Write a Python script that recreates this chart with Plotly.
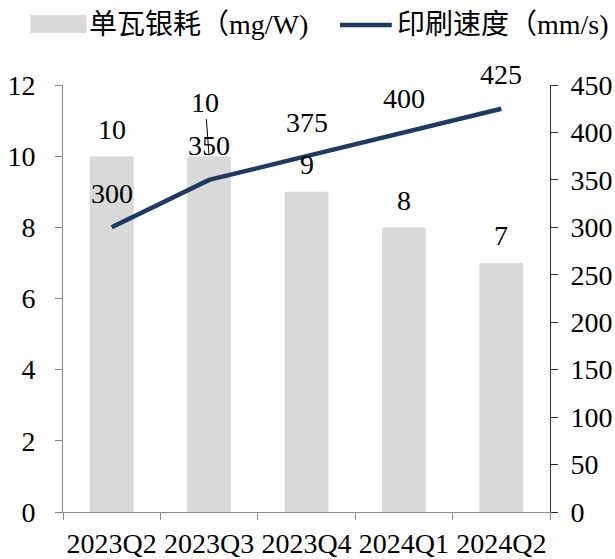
import plotly.graph_objects as go

# Quarterly series
quarters = ["2023Q2", "2023Q3", "2023Q4", "2024Q1", "2024Q2"]
silver_mg_per_w = [10, 10, 9, 8, 7]
print_speed_mm_s = [300, 350, 375, 400, 425]

bar_name = "单瓦银耗（mg/W)"
line_name = "印刷速度（mm/s)"

left_ticks = [0, 2, 4, 6, 8, 10, 12]
right_ticks = [0, 50, 100, 150, 200, 250, 300, 350, 400, 450]

BAR_COLOR = "#d9d9d9"
LINE_COLOR = "#1e3a5f"
SERIF = "Liberation Serif"
CJK = "Liberation Serif, Noto Sans CJK SC"
FS = 28

fig = go.Figure()
fig.add_trace(go.Bar(
    x=quarters, y=silver_mg_per_w, name=bar_name,
    marker=dict(color=BAR_COLOR, cornerradius=2, line=dict(width=0)),
    width=0.45, showlegend=False, hoverinfo="skip",
))
fig.add_trace(go.Scatter(
    x=quarters, y=print_speed_mm_s, name=line_name, yaxis="y2",
    mode="lines", line=dict(color=LINE_COLOR, width=4.5),
    showlegend=False, hoverinfo="skip",
))

annotations = []
# bar value labels
for i, (q, v) in enumerate(zip(quarters, silver_mg_per_w)):
    if i == 1:
        # raised label with a leader line down to the bar
        annotations.append(dict(
            x=q, y=v, xref="x", yref="y", text=str(v), showarrow=True,
            arrowhead=0, arrowwidth=1, arrowcolor="#000000",
            ax=-4, ay=-54, standoff=2,
            font=dict(family=SERIF, size=FS, color="#000000"),
        ))
    else:
        annotations.append(dict(
            x=q, y=v, xref="x", yref="y", text=str(v), showarrow=False,
            yshift=27, font=dict(family=SERIF, size=FS, color="#000000"),
        ))
# line value labels
for q, v in zip(quarters, print_speed_mm_s):
    annotations.append(dict(
        x=q, y=v, xref="x", yref="y2", text=str(v), showarrow=False,
        yshift=34, font=dict(family=SERIF, size=FS, color="#000000"),
    ))

# legend drawn above the plot, positioned in pixels of the page
L, R, T, B = 62.5, 64.5, 85, 47
W, H = 615, 559
plot_w, plot_h = W - L - R, H - T - B
def px_x(p):
    return (p - L) / plot_w
def px_y(p):
    return (H - B - p) / plot_h

shapes = [
    dict(type="rect", xref="paper", yref="paper",
         x0=px_x(30), x1=px_x(86), y0=px_y(33), y1=px_y(15),
         fillcolor=BAR_COLOR, line=dict(width=0)),
    dict(type="line", xref="paper", yref="paper",
         x0=px_x(340), x1=px_x(392), y0=px_y(25), y1=px_y(25),
         line=dict(color=LINE_COLOR, width=4.5)),
]
annotations.append(dict(
    x=px_x(87), y=px_y(24), xref="paper", yref="paper", text=bar_name,
    showarrow=False, xanchor="left", yanchor="middle",
    font=dict(family=CJK, size=FS, color="#000000"),
))
annotations.append(dict(
    x=px_x(395), y=px_y(24), xref="paper", yref="paper", text=line_name,
    showarrow=False, xanchor="left", yanchor="middle",
    font=dict(family=CJK, size=FS, color="#000000"),
))

fig.update_layout(
    width=W, height=H,
    margin=dict(l=L, r=R, t=T, b=B, autoexpand=False),
    paper_bgcolor="#ffffff", plot_bgcolor="#ffffff",
    font=dict(family=SERIF, size=FS, color="#000000"),
    showlegend=False,
    xaxis=dict(
        type="category", showgrid=False, zeroline=False, automargin=False,
        showline=True, linecolor="#888888", linewidth=1,
        ticks="outside", tickson="boundaries", ticklen=7, tickcolor="#888888",
        ticklabelstandoff=6, tickangle=0,
        tickfont=dict(family=SERIF, size=FS, color="#000000"),
    ),
    yaxis=dict(
        range=[0, 12], tickvals=left_ticks, showgrid=False, zeroline=False,
        automargin=False,
        showline=True, linecolor="#888888", linewidth=1,
        ticks="outside", ticklen=7, tickcolor="#888888",
        ticklabelstandoff=14,
        tickfont=dict(family=SERIF, size=FS, color="#000000"),
    ),
    yaxis2=dict(
        range=[0, 450], tickvals=right_ticks, overlaying="y", side="right",
        showgrid=False, zeroline=False, automargin=False,
        showline=True, linecolor="#333333", linewidth=1,
        ticks="outside", ticklen=7, tickcolor="#333333",
        ticklabelstandoff=7,
        tickfont=dict(family=SERIF, size=FS, color="#000000"),
    ),
    shapes=shapes,
    annotations=annotations,
)

fig.write_html("out.html")
